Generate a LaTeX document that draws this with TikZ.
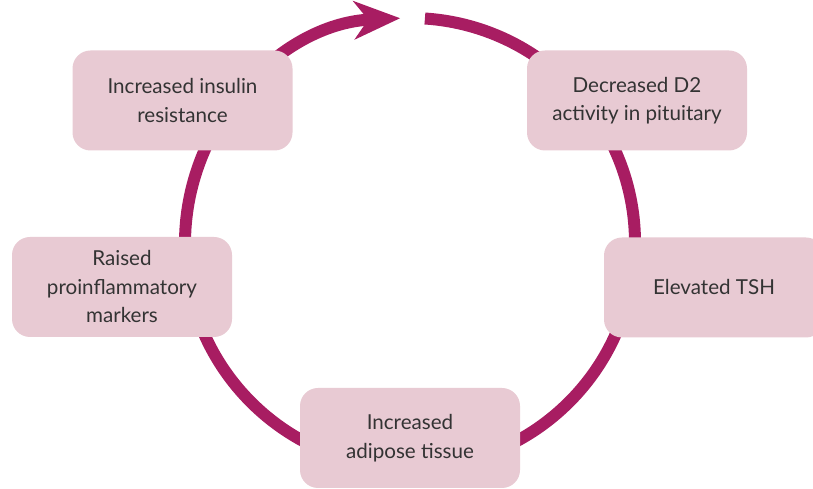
\documentclass[tikz,border=0pt]{standalone}
\usepackage{fontspec}
\setmainfont{Lato}
\usetikzlibrary{arrows.meta,calc}
\definecolor{cyclemag}{HTML}{A81D62}
\definecolor{boxpink}{HTML}{E8CAD3}
\definecolor{txtgray}{HTML}{333333}
\tikzset{
    BX/.style ={rectangle, rounded corners=18pt, minimum width=220pt, minimum height=100pt,
                fill=boxpink, text=txtgray, align=center,
                font=\fontsize{20.6}{28.5}\selectfont},
    CY/.style ={draw=cyclemag, line width=12pt,
                -{Stealth[length=46pt, width=38pt, inset=14pt]}}}
\begin{document}
\begin{tikzpicture}[x=1pt, y=1pt]
        \useasboundingbox (0,0) rectangle (813,489);
        \clip (0,0) rectangle (813,489);
        % cycle behind the boxes
        \coordinate (c) at (410,246);
        \draw[CY] ($(c)+(86.2:225)$) arc[start angle=86.2, end angle=-267.5, radius=225];
        % boxes
        \node[BX] (insulin) at (182.5,388.5) {Increased insulin\\resistance};
        \node[BX] (dtwo) at (637,388.5) {Decreased D2\\activity in pituitary};
        \node[BX] (tsh) at (714,201.5) {Elevated TSH};
        \node[BX] (adipose) at (410,51) {Increased\\adipose tissue};
        \node[BX] (markers) at (122,202) {Raised\\proinflammatory\\markers};
\end{tikzpicture}
\end{document}
